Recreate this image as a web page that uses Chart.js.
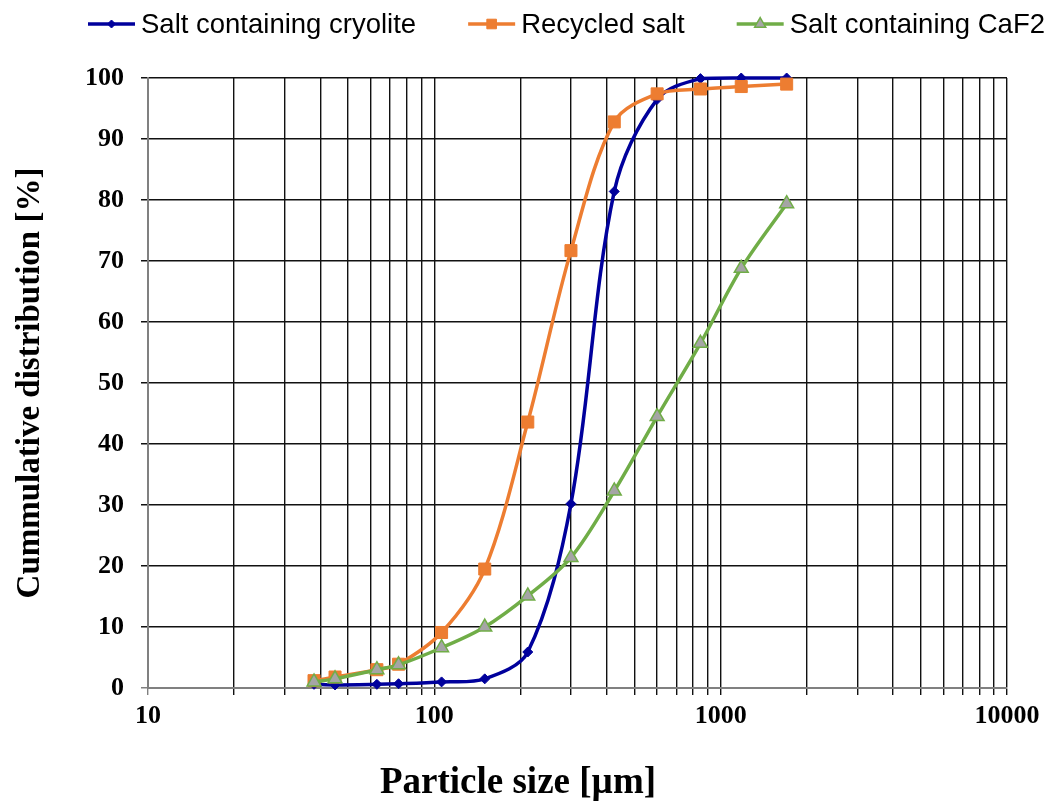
<!DOCTYPE html>
<html>
<head>
<meta charset="utf-8">
<script src="https://cdn.jsdelivr.net/npm/chart.js@4.4.1/dist/chart.umd.min.js"></script>
<style>
  html, body { margin: 0; padding: 0; background: #ffffff; }
  #wrap { width: 1053px; height: 806px; }
</style>
</head>
<body>
<div id="wrap"><canvas id="c"></canvas></div>
<script>
// Sieve sizes (µm) and cumulative passing (%) for each salt
const particleSizes = [38, 45, 63, 75, 106, 150, 212, 300, 425, 600, 850, 1180, 1700];
const cryoliteSalt  = [0.6, 0.5, 0.6, 0.7, 1.0, 1.5, 5.9, 30.2, 81.4, 96.5, 99.9, 100, 100];
const recycledSalt  = [1.2, 1.8, 3.0, 3.9, 9.1, 19.5, 43.6, 71.7, 92.8, 97.4, 98.2, 98.6, 99.0];
const caf2Salt      = [1.0, 1.5, 3.0, 3.8, 6.6, 10.0, 15.1, 21.4, 32.3, 44.5, 56.5, 68.8, 79.4];
const seriesNames   = ['Salt containing cryolite', 'Recycled salt', 'Salt containing CaF2'];
const xTickLabels   = ['10', '100', '1000', '10000'];
const yTickLabels   = ['0', '10', '20', '30', '40', '50', '60', '70', '80', '90', '100'];
const xTitle = 'Particle size [µm]';
const yTitle = 'Cummulative distribution [%]';

// log grid: 1..9 within each decade between the labelled powers of ten
const decades = xTickLabels.map(Number);
const xGridValues = [];
for (let i = 0; i < decades.length - 1; i++) {
  for (let k = 1; k <= 9; k++) xGridValues.push(decades[i] * k);
}
xGridValues.push(decades[decades.length - 1]);

const toPoints = vals => vals.map((v, i) => ({ x: particleSizes[i], y: v }));

const SERIF = "'Liberation Serif', 'Times New Roman', serif";
const SANS = "'Liberation Sans', Arial, sans-serif";
const GRID = '#111111';
const AXIS = '#808080';

// Legend row with a line-and-marker sample for each series
const lineLegend = {
  id: 'lineLegend',
  afterDraw(chart, args, opts) {
    const ctx = chart.ctx;
    let x = opts.left;
    const y = opts.y;
    ctx.save();
    ctx.font = opts.font;
    ctx.textBaseline = 'middle';
    ctx.textAlign = 'left';
    chart.data.datasets.forEach(ds => {
      ctx.strokeStyle = ds.borderColor;
      ctx.lineWidth = ds.borderWidth;
      ctx.beginPath();
      ctx.moveTo(x, y);
      ctx.lineTo(x + opts.lineLength, y);
      ctx.stroke();
      ctx.fillStyle = ds.pointBackgroundColor;
      ctx.strokeStyle = ds.pointBorderColor;
      ctx.lineWidth = ds.pointBorderWidth;
      Chart.helpers.drawPoint(ctx, {
        pointStyle: ds.pointStyle,
        radius: ds.pointRadius * opts.markerScale,
        rotation: 0,
        borderWidth: ds.pointBorderWidth
      }, x + opts.lineLength / 2, y);
      x += opts.lineLength + opts.textGap;
      ctx.fillStyle = '#000000';
      ctx.fillText(ds.label, x, y + opts.textShift);
      x += ctx.measureText(ds.label).width + opts.itemGap;
    });
    ctx.restore();
  }
};

// Axis titles
const axisTitles = {
  id: 'axisTitles',
  afterDraw(chart, args, opts) {
    const ctx = chart.ctx;
    ctx.save();
    ctx.fillStyle = '#000000';
    ctx.font = opts.xFont;
    ctx.textAlign = 'center';
    ctx.textBaseline = 'middle';
    ctx.fillText(xTitle, opts.xCenter, opts.xMiddle);
    ctx.font = opts.yFont;
    ctx.translate(opts.yCenter, (chart.chartArea.top + chart.chartArea.bottom) / 2);
    ctx.rotate(-Math.PI / 2);
    ctx.fillText(yTitle, 0, 0);
    ctx.restore();
  }
};

new Chart(document.getElementById('c'), {
  type: 'line',
  data: {
    datasets: [
      {
        label: seriesNames[0],
        data: toPoints(cryoliteSalt),
        borderColor: '#00009C',
        borderWidth: 3.5,
        pointStyle: 'rectRot',
        pointRadius: 5,
        pointBackgroundColor: '#00009C',
        pointBorderColor: '#00009C',
        pointBorderWidth: 1,
        tension: 0.33,
        order: 3,
        clip: false
      },
      {
        label: seriesNames[1],
        data: toPoints(recycledSalt),
        borderColor: '#ED7D31',
        borderWidth: 3.5,
        pointStyle: 'rect',
        pointRadius: 8.5,
        pointBackgroundColor: '#ED7D31',
        pointBorderColor: '#ED7D31',
        pointBorderWidth: 1,
        tension: 0.33,
        order: 2,
        clip: false
      },
      {
        label: seriesNames[2],
        data: toPoints(caf2Salt),
        borderColor: '#70AD47',
        borderWidth: 3.5,
        pointStyle: 'triangle',
        pointRadius: 8,
        pointBackgroundColor: '#A5A5A5',
        pointBorderColor: '#70AD47',
        pointBorderWidth: 1.5,
        tension: 0.33,
        order: 1,
        clip: false
      }
    ]
  },
  options: {
    responsive: true,
    maintainAspectRatio: false,
    animation: false,
    devicePixelRatio: 1,
    layout: { padding: { top: 78, right: 46, bottom: 0, left: 0 } },
    plugins: {
      legend: { display: false },
      tooltip: { enabled: false },
      lineLegend: {
        left: 88, y: 24, lineLength: 47, textGap: 6, itemGap: 52,
        markerScale: 0.8, textShift: 1,
        font: '27.5px ' + SANS
      },
      axisTitles: {
        xFont: 'bold 37px ' + SERIF, xCenter: 518, xMiddle: 783,
        yFont: 'bold 33px ' + SERIF, yCenter: 30
      }
    },
    scales: {
      x: {
        type: 'logarithmic',
        min: 10,
        max: 10000,
        afterBuildTicks: s => { s.ticks = xGridValues.map(v => ({ value: v })); },
        afterFit: s => { s.height = 118; },
        ticks: {
          autoSkip: false,
          maxRotation: 0,
          padding: 6,
          color: '#000000',
          font: { family: SERIF, size: 26, weight: 'bold' },
          callback: v => {
            const i = decades.indexOf(v);
            return i >= 0 ? xTickLabels[i] : '';
          }
        },
        grid: {
          color: c => (c.tick && c.tick.value === 10 ? AXIS : GRID),
          lineWidth: 1.4,
          tickLength: 7
        },
        border: { color: AXIS, width: 2 }
      },
      y: {
        min: 0,
        max: 100,
        afterBuildTicks: s => { s.ticks = yTickLabels.map(v => ({ value: Number(v) })); },
        afterFit: s => { s.width = 148; },
        ticks: {
          autoSkip: false,
          padding: 17,
          color: '#000000',
          font: { family: SERIF, size: 26, weight: 'bold' },
          callback: (v, i) => yTickLabels[i]
        },
        grid: {
          color: c => (c.tick && c.tick.value === 0 ? AXIS : GRID),
          lineWidth: 1.5,
          tickLength: 7
        },
        border: { color: AXIS, width: 2 }
      }
    }
  },
  plugins: [lineLegend, axisTitles]
});
</script>
</body>
</html>
